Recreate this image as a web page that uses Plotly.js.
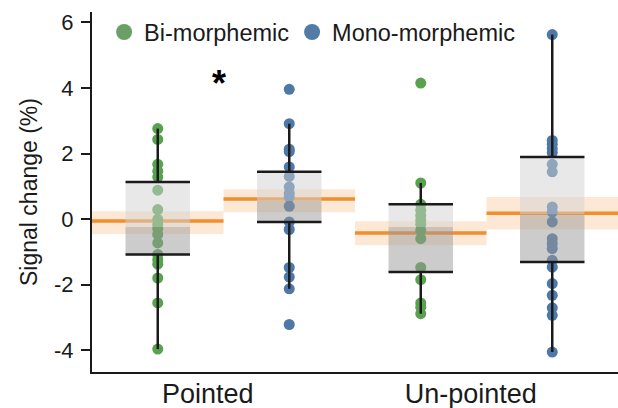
<!DOCTYPE html>
<html>
<head>
<meta charset="utf-8">
<script src="https://cdn.plot.ly/plotly-3.0.1.min.js"></script>
<style>html,body{margin:0;padding:0;background:#fff;}#chart{width:618px;height:408px;}</style>
</head>
<body>
<div id="chart"></div>
<script>
// ---- data ----
const conditions = ["Pointed", "Un-pointed"];
const seriesNames = ["Bi-morphemic", "Mono-morphemic"];

const pointedBi = [2.76, 2.43, 1.67, 1.46, 1.28, 0.88, 0.29, -0.01, -0.17, -0.29, -0.47, -0.73, -1.08, -1.24, -1.38, -1.80, -2.56, -3.97];
const pointedMono = [3.96, 2.91, 2.13, 2.06, 1.59, 1.30, 0.98, 0.79, 0.67, 0.39, -0.09, -0.32, -1.48, -1.77, -2.13, -3.22];
const unpointedBi = [4.15, 1.10, 0.45, 0.27, 0.11, -0.04, -0.16, -0.35, -0.60, -1.48, -1.85, -2.56, -2.69, -2.89];
const unpointedMono = [5.63, 2.40, 2.28, 2.15, 2.03, 1.67, 1.44, 0.37, 0.21, -0.09, -0.60, -0.75, -0.90, -1.26, -1.47, -1.97, -2.33, -2.71, -2.94, -4.06];

// group order: Pointed/Bi, Pointed/Mono, Un-pointed/Bi, Un-pointed/Mono
const means       = [-0.06, 0.61, -0.43, 0.18];
const ciLow       = [-0.46, 0.21, -0.80, -0.32];
const ciHigh      = [0.24, 0.91, -0.07, 0.67];
const q1          = [-1.08, -0.09, -1.62, -1.31];
const medians     = [-0.24, 0.55, -0.24, 0.14];
const q3          = [1.13, 1.44, 0.45, 1.89];
const whiskerLow  = [-3.97, -2.13, -2.89, -4.06];
const whiskerHigh = [2.76, 2.91, 1.10, 5.63];

const yTickVals = [-4, -2, 0, 2, 4, 6];
const yTickText = ["-4", "-2", "0", "2", "4", "6"];
const significance = "*";

// ---- styling ----
const green = "#59a14f", blue = "#4e79a7", orange = "#f28e2b", ink = "#1a1a1a";
const FONT = "Liberation Sans, Arial, Helvetica, sans-serif";
const groupPoints = [pointedBi, pointedMono, unpointedBi, unpointedMono];
const boxHalf = 0.245, bandHalf = 0.5;

function pts(idxs) {
  const x = [], y = [];
  idxs.forEach(i => groupPoints[i].forEach(v => { x.push(i); y.push(v); }));
  return {x, y};
}
const bi = pts([0, 2]), mono = pts([1, 3]);

const traces = [
  {type: "scatter", mode: "markers", x: bi.x, y: bi.y, showlegend: false, hoverinfo: "skip",
   marker: {color: green, size: 11, line: {width: 0}}},
  {type: "scatter", mode: "markers", x: mono.x, y: mono.y, showlegend: false, hoverinfo: "skip",
   marker: {color: blue, size: 11, line: {width: 0}}},
  {type: "scatter", mode: "markers", x: [null], y: [null], name: seriesNames[0], legend: "legend",
   marker: {color: "#6a9f66", size: 17}},
  {type: "scatter", mode: "markers", x: [null], y: [null], name: seriesNames[1], legend: "legend2",
   marker: {color: "#527ba6", size: 17}}
];

const below = [], above = [];
means.forEach((m, i) => {
  below.push({type: "rect", xref: "x", yref: "y", x0: i - bandHalf, x1: i + bandHalf, y0: ciLow[i], y1: ciHigh[i],
              fillcolor: "rgba(242,142,43,0.2)", line: {width: 0}, layer: "below"});
  below.push({type: "line", xref: "x", yref: "y", x0: i - bandHalf, x1: i + bandHalf, y0: m, y1: m,
              line: {color: orange, width: 3.5}, layer: "below"});
  above.push({type: "line", xref: "x", yref: "y", x0: i, x1: i, y0: q3[i], y1: whiskerHigh[i],
              line: {color: ink, width: 2.5}, layer: "above"});
  above.push({type: "line", xref: "x", yref: "y", x0: i, x1: i, y0: q1[i], y1: whiskerLow[i],
              line: {color: ink, width: 2.5}, layer: "above"});
  above.push({type: "rect", xref: "x", yref: "y", x0: i - boxHalf, x1: i + boxHalf, y0: medians[i], y1: q3[i],
              fillcolor: "rgba(209,209,209,0.5)", line: {width: 0}, layer: "above"});
  above.push({type: "rect", xref: "x", yref: "y", x0: i - boxHalf, x1: i + boxHalf, y0: q1[i], y1: medians[i],
              fillcolor: "rgba(153,153,153,0.5)", line: {width: 0}, layer: "above"});
  above.push({type: "line", xref: "x", yref: "y", x0: i - boxHalf, x1: i + boxHalf, y0: q3[i], y1: q3[i],
              line: {color: ink, width: 2.5}, layer: "above"});
  above.push({type: "line", xref: "x", yref: "y", x0: i - boxHalf, x1: i + boxHalf, y0: q1[i], y1: q1[i],
              line: {color: ink, width: 2.5}, layer: "above"});
});

const legendBase = {orientation: "h", xanchor: "left", y: 1.005, yanchor: "top",
                    bgcolor: "rgba(0,0,0,0)", font: {size: 23.5, family: FONT, color: ink}, itemwidth: 30};

const layout = {
  width: 618, height: 408,
  margin: {l: 92, r: 0, t: 12, b: 36},
  paper_bgcolor: "#fff", plot_bgcolor: "#fff",
  font: {family: FONT, color: ink, size: 22},
  showlegend: true,
  legend: Object.assign({}, legendBase, {x: 0.023}),
  legend2: Object.assign({}, legendBase, {x: 0.3804}),
  xaxis: {range: [-0.5, 3.5], showgrid: false, zeroline: false,
          showline: true, linecolor: ink, linewidth: 2,
          ticks: "", tickvals: conditions.map((c, i) => 2 * i + 0.38), ticktext: conditions,
          ticklabelstandoff: -3,
          tickfont: {size: 27, family: FONT, color: ink}, fixedrange: true},
  yaxis: {range: [-4.67, 6.32], showgrid: false, zeroline: false,
          showline: true, linecolor: ink, linewidth: 2,
          ticks: "outside", ticklen: 9, tickwidth: 2, tickcolor: ink,
          tickvals: yTickVals, ticktext: yTickText, ticklabelstandoff: 3,
          tickfont: {size: 22, family: FONT, color: ink},
          title: {text: "Signal change (%)", font: {size: 23, family: FONT, color: ink}, standoff: 10},
          fixedrange: true},
  shapes: below.concat(above),
  annotations: [{xref: "x", yref: "y", x: 0.465, y: 4.15, text: "<b>" + significance + "</b>", showarrow: false,
                 font: {size: 36, family: FONT, color: "#000"}, xanchor: "center", yanchor: "middle"}]
};

Plotly.newPlot("chart", traces, layout, {staticPlot: true, displayModeBar: false});
</script>
</body>
</html>
